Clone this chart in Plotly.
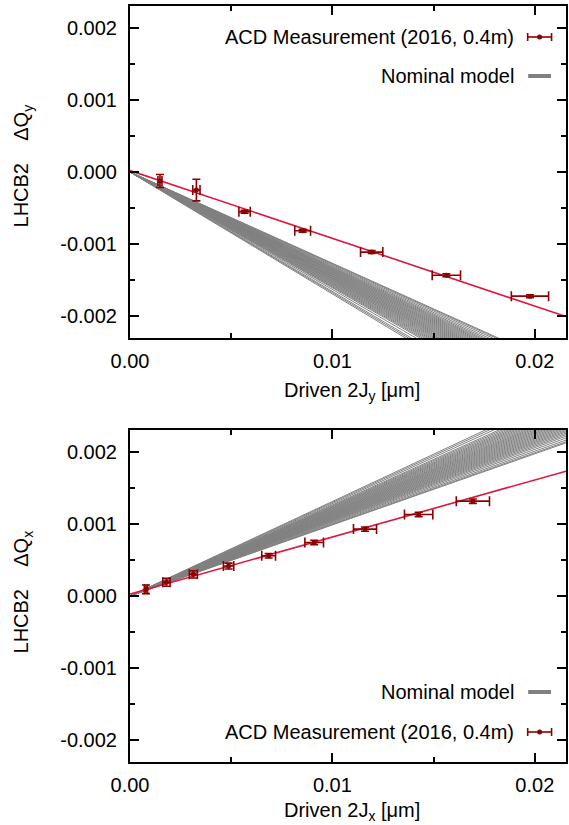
import plotly.graph_objects as go

# ---------------- data ----------------
# Vertical plane: driven 2Jy [um] vs tune shift dQy
jy_drive = [0.00148, 0.00328, 0.00566, 0.00853, 0.01194, 0.01563, 0.01976]
dqy_meas = [-0.000125, -0.00025, -0.00055, -0.000813, -0.00111, -0.00143, -0.00172]
jy_err = [0.0001, 0.00018, 0.00028, 0.00039, 0.00055, 0.0007, 0.00092]
dqy_err = [0.00009, 0.00015, 0.00002, 0.00002, 0.00002, 0.00002, 0.00002]
fit_y = [0.00002, -0.0939]  # intercept, slope

# Nominal-model detuning slopes (vertical plane)
model_slopes_y = [
    -0.1690, -0.1672, -0.1655, -0.1628, -0.1605, -0.1592, -0.1580, -0.1568,
    -0.1557, -0.1546, -0.1535, -0.1524, -0.1514, -0.1504, -0.1494, -0.1485,
    -0.1476, -0.1467, -0.1458, -0.1449, -0.1440, -0.1431, -0.1422, -0.1413,
    -0.1404, -0.1395, -0.1386, -0.1377, -0.1368, -0.1359, -0.1350, -0.1341,
    -0.1332, -0.1322, -0.1311, -0.1298, -0.1284, -0.1272, -0.1264,
]

# Horizontal plane: driven 2Jx [um] vs tune shift dQx
jx_drive = [0.00079, 0.0018, 0.00313, 0.00487, 0.00685, 0.0091, 0.01161, 0.01426, 0.01694]
dqx_meas = [0.000093, 0.00019, 0.0003, 0.000415, 0.000557, 0.000742, 0.000927, 0.00113, 0.001314]
jx_err = [0.00008, 0.00018, 0.0002, 0.000255, 0.00034, 0.00046, 0.00057, 0.0007, 0.00082]
dqx_err = [0.00006, 0.000055, 0.00005, 0.00004, 0.00003, 0.00003, 0.00003, 0.00003, 0.00003]
fit_x = [0.000028, 0.0790]  # intercept, slope

model_slopes_x = [
    0.1310, 0.1296, 0.1280, 0.1262, 0.1251, 0.1240, 0.1230, 0.1221,
    0.1212, 0.1203, 0.1194, 0.1185, 0.1176, 0.1168, 0.1160, 0.1152,
    0.1144, 0.1136, 0.1128, 0.1120, 0.1112, 0.1104, 0.1096, 0.1088,
    0.1080, 0.1072, 0.1064, 0.1056, 0.1047, 0.1038, 0.1028, 0.1016,
    0.1003, 0.0992, 0.0985,
]

x_range = [0.0, 0.02154]
y_range = [-0.0023, 0.0023]
x_tickvals = [0.0, 0.01, 0.02]
x_ticktext = ["0.00", "0.01", "0.02"]
y_tickvals = [-0.002, -0.001, 0.0, 0.001, 0.002]
y_ticktext = ["-0.002", "-0.001", "0.000", "0.001", "0.002"]

# ---------------- styling ----------------
FONT = "Liberation Sans, Arial, Helvetica, sans-serif"
MEAS = "#8b0000"
FIT = "#e0143c"
MODEL = "#808080"

W, H = 569, 825
ML, MR, MT, MB = 130, 1, 6, 63
PW, PH = W - ML - MR, H - MT - MB


def px(x):
    return (x - ML) / PW


def py(y):
    return 1 - (y - MT) / PH


fig = go.Figure()


def add_panel(xa, ya, slopes, jd, dq, je, de, fit):
    # model bundle: one line per slope through the origin
    xs, ys = [], []
    for s in slopes:
        xs += [0.0, x_range[1], None]
        ys += [0.0, s * x_range[1], None]
    fig.add_trace(go.Scatter(x=xs, y=ys, mode="lines", xaxis=xa, yaxis=ya,
                             line=dict(color=MODEL, width=1), hoverinfo="skip",
                             showlegend=False))
    # linear fit to measurement
    fig.add_trace(go.Scatter(x=x_range, y=[fit[0] + fit[1] * v for v in x_range],
                             mode="lines", xaxis=xa, yaxis=ya,
                             line=dict(color=FIT, width=1.6), showlegend=False))
    # measured points with error bars
    fig.add_trace(go.Scatter(
        x=jd, y=dq, mode="markers", xaxis=xa, yaxis=ya,
        marker=dict(color=MEAS, size=5),
        error_x=dict(type="data", array=je, color=MEAS, thickness=1.6, width=5),
        error_y=dict(type="data", array=de, color=MEAS, thickness=1.6, width=4),
        showlegend=False))


add_panel("x", "y", model_slopes_y, jy_drive, dqy_meas, jy_err, dqy_err, fit_y)
add_panel("x2", "y2", model_slopes_x, jx_drive, dqx_meas, jx_err, dqx_err, fit_x)

top_dom = [py(338), py(6)]
bot_dom = [py(762), py(430)]

xaxis_common = dict(
    range=x_range, tickvals=x_tickvals, ticktext=x_ticktext,
    ticks="inside", ticklen=9, tickwidth=1.5, tickcolor="black",
    minor=dict(tickvals=[0.005, 0.015], ticks="inside", ticklen=5,
               tickwidth=1.5, tickcolor="black"),
    showline=True, linewidth=2, linecolor="black", mirror="ticks",
    showgrid=False, zeroline=False, ticklabelstandoff=4,
    tickfont=dict(family=FONT, size=20, color="black"),
)
yaxis_common = dict(
    range=y_range, tickvals=y_tickvals, ticktext=y_ticktext,
    ticks="inside", ticklen=9, tickwidth=1.5, tickcolor="black",
    minor=dict(dtick=0.0005, tick0=0, ticks="inside", ticklen=5,
               tickwidth=1.5, tickcolor="black"),
    showline=True, linewidth=2, linecolor="black", mirror="ticks",
    showgrid=False, zeroline=False, ticklabelstandoff=7,
    tickfont=dict(family=FONT, size=20, color="black"),
)

fig.update_layout(
    width=W, height=H,
    margin=dict(l=ML, r=MR, t=MT, b=MB),
    paper_bgcolor="white", plot_bgcolor="white",
    font=dict(family=FONT, size=20, color="black"),
    xaxis=dict(domain=[0, 1], anchor="y", **xaxis_common),
    yaxis=dict(domain=top_dom, anchor="x", **yaxis_common),
    xaxis2=dict(domain=[0, 1], anchor="y2", **xaxis_common),
    yaxis2=dict(domain=bot_dom, anchor="x2", **yaxis_common),
    showlegend=False,
)

NB = "\u00a0"
annotations = [
    # axis titles
    dict(x=px(22), y=py(166), text="LHCB2" + NB * 4 + "ΔQ<sub>y</sub>", textangle=-90),
    dict(x=px(22), y=py(592), text="LHCB2" + NB * 4 + "ΔQ<sub>x</sub>", textangle=-90),
    dict(x=px(353), y=py(391), text="Driven 2J<sub>y</sub> [μm]"),
    dict(x=px(353), y=py(812), text="Driven 2J<sub>x</sub> [μm]"),
    # legend labels
    dict(x=px(518), y=py(37), text="ACD Measurement (2016, 0.4m)", xanchor="right"),
    dict(x=px(518), y=py(76), text="Nominal model", xanchor="right"),
    dict(x=px(518), y=py(692), text="Nominal model", xanchor="right"),
    dict(x=px(518), y=py(732), text="ACD Measurement (2016, 0.4m)", xanchor="right"),
]
for a in annotations:
    a.setdefault("xanchor", "center")
    fig.add_annotation(xref="paper", yref="paper", yanchor="middle", showarrow=False,
                       font=dict(family=FONT, size=20, color="black"), **a)


# legend keys
def errorbar_key(yc):
    x0, x1, xm = 529.5, 553.5, 541.5
    shapes = [
        dict(type="line", x0=px(x0), x1=px(x1), y0=py(yc), y1=py(yc)),
        dict(type="line", x0=px(x0), x1=px(x0), y0=py(yc - 4), y1=py(yc + 4)),
        dict(type="line", x0=px(x1), x1=px(x1), y0=py(yc - 4), y1=py(yc + 4)),
    ]
    for s in shapes:
        fig.add_shape(xref="paper", yref="paper", line=dict(color=MEAS, width=1.6), **s)
    fig.add_shape(type="circle", xref="paper", yref="paper", xsizemode="pixel",
                  ysizemode="pixel", xanchor=px(xm), yanchor=py(yc),
                  x0=-2.5, x1=2.5, y0=-2.5, y1=2.5,
                  fillcolor=MEAS, line=dict(color=MEAS, width=0))


def model_key(yc):
    fig.add_shape(type="line", xref="paper", yref="paper",
                  x0=px(530), x1=px(553), y0=py(yc), y1=py(yc),
                  line=dict(color=MODEL, width=4))


errorbar_key(37)
model_key(76)
model_key(692)
errorbar_key(732)

fig.write_html("out.html")
